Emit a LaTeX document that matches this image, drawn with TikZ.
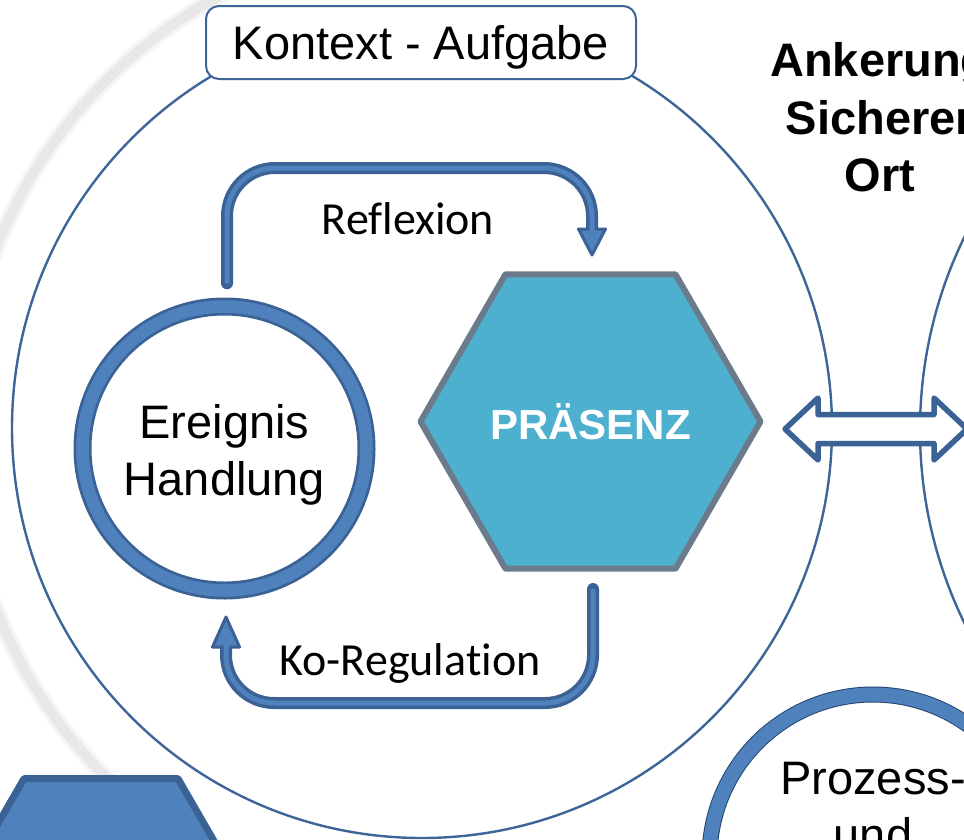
\documentclass[tikz,border=0pt]{standalone}
\usepackage{fontspec}
\setmainfont{Liberation Sans}
\newfontfamily\calibrifont[Ligatures=NoCommon]{Carlito}
\usetikzlibrary{shapes.geometric,calc}

\definecolor{ringblue}{HTML}{4F81BD}
\definecolor{edgeblue}{HTML}{3B6294}
\definecolor{lineblue}{HTML}{3D6597}
\definecolor{aqua}{HTML}{4EB0CF}
\definecolor{slate}{HTML}{6B7B8C}
\definecolor{ringedge}{HTML}{24466F}

\tikzset{
  bigcircle/.style={circle, draw=lineblue, line width=2.4pt, inner sep=0},
  sans/.style={font=\fontsize{47}{57}\selectfont, inner sep=0, align=center},
  sansbold/.style={font=\bfseries\fontsize{47}{57.5}\selectfont, inner sep=0, align=center},
  arrowlabel/.style={font=\calibrifont\fontsize{46}{55}\selectfont, inner sep=0, anchor=base},
  hexnode/.style={regular polygon, regular polygon sides=6,
    inner sep=0, line join=round},
  shaftdark/.style={edgeblue, line width=12pt, rounded corners=48pt, line cap=round},
  shaftlight/.style={ringblue, line width=5pt, rounded corners=48pt, line cap=round},
  headtri/.style={fill=ringblue, draw=edgeblue, line width=3pt, line join=round},
}

\begin{document}
\begin{tikzpicture}[x=1pt, y=-1pt]
\useasboundingbox (0,0) rectangle (964,839);
\clip (0,0) rectangle (964,839);

% faint outer ring in the background
\draw[black!4, line width=17pt] (455,429) ++(130:493) arc[start angle=130, end angle=250, radius=493];
\draw[black!9, line width=10pt] (455,429) ++(130:493) arc[start angle=130, end angle=250, radius=493];

% large context circles
\node[bigcircle, minimum size=882pt] (anker) at (1361,430) {};
\node[bigcircle, fill=white, minimum size=820pt] (kontextkreis) at (422,428) {};

% title box of the context circle
\node[draw=lineblue, line width=2pt, fill=white, rounded corners=13pt,
      minimum width=430pt, minimum height=73pt, inner sep=0,
      text height=34pt, text depth=0pt, font=\fontsize{47}{57}\selectfont]
      (kontext) at (421,42.5) {Kontext - Aufgabe};

% anchoring label
\node[sansbold] (ankertext) at (880,117.5) {Ankerung\\Sicherer\\Ort};

% event / action ring
\node[circle, minimum size=302pt, inner sep=0] (ereignis) at (224.5,448.5) {};
\draw[edgeblue, line width=18pt] (ereignis.center) circle[radius=142];
\draw[ringblue, line width=12.5pt] (ereignis.center) circle[radius=142];
\node[sans] (ereignistext) at (224.5,454.6) {Ereignis\\Handlung};

% presence hexagon
\node[hexnode, draw=slate, line width=6pt, fill=aqua, minimum size=340pt,
      text=white, font=\bfseries\fontsize{42}{50}\selectfont]
      (praesenz) at (590.5,421.5) {PRÄSENZ};

% reflection arrow (event -> presence)
\coordinate (rs) at ($(ereignis.north)+(2.5,-14)$);
\coordinate (rtop) at (400,168);
\coordinate (rtip) at (592,255);
\coordinate (rback) at ($(rtip)+(0,-22)$);
\draw[shaftdark] (rs) -- (rs |- rtop) -- (rtip |- rtop) -- ($(rtip)+(0,-26)$);
\draw[headtri] ($(rtip)+(-13.5,-26)$) -- ($(rtip)+(13.5,-26)$) -- (rtip) -- cycle;
\draw[edgeblue, line width=12pt] ($(rtip)+(0,-31)$) -- ($(rtip)+(0,-25.5)$);
\draw[shaftlight] ($(rs)+(0,-2)$) -- (rs |- rtop) -- (rtip |- rtop) -- (rback);
\node[arrowlabel] (reflexion) at (408,234) {Reflexion};

% co-regulation arrow (presence -> event)
\coordinate (ks) at (593,589);
\coordinate (kbot) at (400,703);
\coordinate (ktip) at (226,617);
\coordinate (kback) at ($(ktip)+(0,22)$);
\draw[shaftdark] (ks) -- (ks |- kbot) -- (ktip |- kbot) -- ($(ktip)+(0,30)$);
\draw[headtri] ($(ktip)+(-13.5,30)$) -- ($(ktip)+(13.5,30)$) -- (ktip) -- cycle;
\draw[edgeblue, line width=12pt] ($(ktip)+(0,35)$) -- ($(ktip)+(0,29.5)$);
\draw[shaftlight] ($(ks)+(0,2)$) -- (ks |- kbot) -- (ktip |- kbot) -- (kback);
\node[arrowlabel] (koreg) at (410,675) {Ko-Regulation};

% double arrow between presence and anchoring
\coordinate (dl) at (785,429);
\draw[edgeblue, line width=5.5pt, fill=white, line join=round]
  (dl) -- ++(33,-31) -- ++(0,16.5) -- ++(116,0) -- ++(0,-16.5) -- ++(33,31)
  -- ++(-33,31) -- ++(0,-16.5) -- ++(-116,0) -- ++(0,16.5) -- cycle;

% process ring
\node[circle, minimum size=342pt, inner sep=0] (prozess) at (873,858) {};
\draw[ringedge, line width=16pt] (prozess.center) circle[radius=163.5];
\draw[ringblue, line width=14pt] (prozess.center) circle[radius=163.5];
\node[sans] (prozesstext) at (873,807) {Prozess-\\und};

% lower left hexagon
\node[hexnode, draw=edgeblue, line width=7pt, fill=ringblue, minimum size=308pt]
      (basis) at (101,912) {};
\end{tikzpicture}
\end{document}
